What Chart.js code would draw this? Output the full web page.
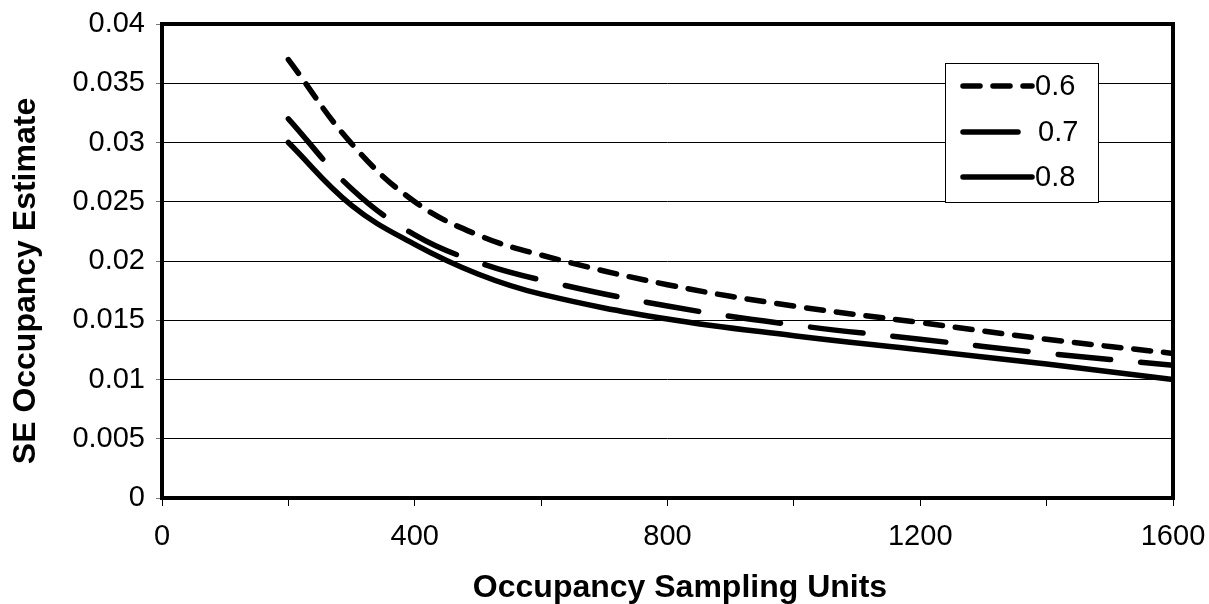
<!DOCTYPE html>
<html>
<head>
<meta charset="utf-8">
<script src="https://cdn.jsdelivr.net/npm/chart.js@4"></script>
<style>
  html, body { margin: 0; padding: 0; background: #fff; }
  canvas { display: block; }
</style>
</head>
<body>
<canvas id="chart" width="1209" height="604"></canvas>

<script>
// Sampling units (x) and SE of occupancy estimate for each detection probability
const units = [200, 300, 400, 500, 600, 800, 1000, 1200, 1400, 1600];
const se06 = [0.037, 0.0299, 0.025, 0.0222, 0.0205, 0.018, 0.0162, 0.0148, 0.0134, 0.0122];
const se07 = [0.032, 0.0261, 0.0222, 0.0199, 0.0184, 0.0162, 0.0146, 0.0134, 0.0122, 0.0112];
const se08 = [0.030, 0.0247, 0.0214, 0.0189, 0.0172, 0.0151, 0.0137, 0.0125, 0.0113, 0.0100];
const seriesNames = ['0.6', '0.7', '0.8'];
const yTicks = [0, 0.005, 0.01, 0.015, 0.02, 0.025, 0.03, 0.035, 0.04];
const xLabels = [0, 400, 800, 1200, 1600];
const xTitle = 'Occupancy Sampling Units';
const yTitle = 'SE Occupancy Estimate';

const FONT = "'Liberation Sans', Arial, sans-serif";
const dashes = [[17, 13], [53, 30], []];

function pts(ys) {
  return units.map((u, i) => ({ x: u, y: ys[i] }));
}

const datasets = [se06, se07, se08].map((ys, i) => ({
  label: seriesNames[i],
  data: pts(ys),
  borderColor: '#000',
  borderWidth: 5.5,
  borderDash: dashes[i],
  borderCapStyle: 'round',
  pointRadius: 0,
  tension: 0.4,
  fill: false
}));

// frame around plot area, axis titles and boxed legend
const framePlugin = {
  id: 'frame',
  afterDraw(chart) {
    const { ctx, chartArea: a } = chart;
    ctx.save();
    ctx.strokeStyle = '#000';
    ctx.lineWidth = 4;
    ctx.strokeRect(a.left, a.top, a.right - a.left, a.bottom - a.top);

    // axis titles
    ctx.fillStyle = '#000';
    ctx.font = 'bold 32px ' + FONT;
    ctx.textAlign = 'center';
    ctx.textBaseline = 'middle';
    ctx.fillText(xTitle, 680, 588);
    ctx.save();
    ctx.translate(26, 281);
    ctx.rotate(-Math.PI / 2);
    ctx.fillText(yTitle, 0, 0);
    ctx.restore();

    // legend
    const bx = 945, by = 63, bw = 153, bh = 139;
    ctx.fillStyle = '#fff';
    ctx.fillRect(bx, by, bw, bh);
    ctx.lineWidth = 1;
    ctx.strokeRect(bx + 0.5, by + 0.5, bw, bh);
    ctx.font = '29px ' + FONT;
    ctx.textBaseline = 'middle';
    ctx.textAlign = 'left';
    const rows = [86, 132, 177];
    chart.data.datasets.forEach((ds, i) => {
      ctx.beginPath();
      ctx.lineWidth = 5.5;
      ctx.lineCap = 'round';
      ctx.setLineDash(i === 1 ? [] : ds.borderDash);
      ctx.moveTo(963, rows[i]);
      ctx.lineTo(i === 1 ? 1018 : 1032, rows[i]);
      ctx.stroke();
      ctx.setLineDash([]);
      ctx.fillStyle = '#000';
      ctx.fillText(ds.label, i === 1 ? 1038 : 1035, rows[i] + 1);
    });
    ctx.restore();
  }
};

new Chart(document.getElementById('chart').getContext('2d'), {
  type: 'line',
  data: { datasets },
  options: {
    responsive: false,
    animation: false,
    layout: { padding: { top: 24, right: 36, left: 0, bottom: 0 } },
    plugins: { legend: { display: false }, tooltip: { enabled: false } },
    scales: {
      x: {
        type: 'linear',
        min: 0,
        max: 1600,
        afterBuildTicks(scale) {
          scale.ticks = [];
          for (let v = 0; v <= 1600; v += 200) scale.ticks.push({ value: v });
        },
        ticks: {
          autoSkip: false,
          maxRotation: 0,
          padding: 14,
          color: '#000',
          font: { family: FONT, size: 29 },
          callback: v => (xLabels.includes(v) ? String(v) : '')
        },
        grid: { drawOnChartArea: false, drawTicks: true, tickLength: 8, tickColor: '#000', lineWidth: 1 },
        border: { display: false },
        afterFit(scale) {
          scale.height = 106;
          scale.paddingLeft = 0;
          scale.paddingRight = 0;
        }
      },
      y: {
        min: 0,
        max: 0.04,
        afterBuildTicks(scale) {
          scale.ticks = yTicks.map(v => ({ value: v }));
        },
        ticks: {
          padding: 11,
          color: '#000',
          font: { family: FONT, size: 29 },
          callback: v => String(v)
        },
        grid: { color: '#000', lineWidth: 1, drawTicks: true, tickLength: 6, tickColor: '#777' },
        border: { display: false },
        afterFit(scale) {
          scale.width = 162;
          scale.paddingTop = 0;
          scale.paddingBottom = 0;
        }
      }
    }
  },
  plugins: [framePlugin]
});
</script>
</body>
</html>
